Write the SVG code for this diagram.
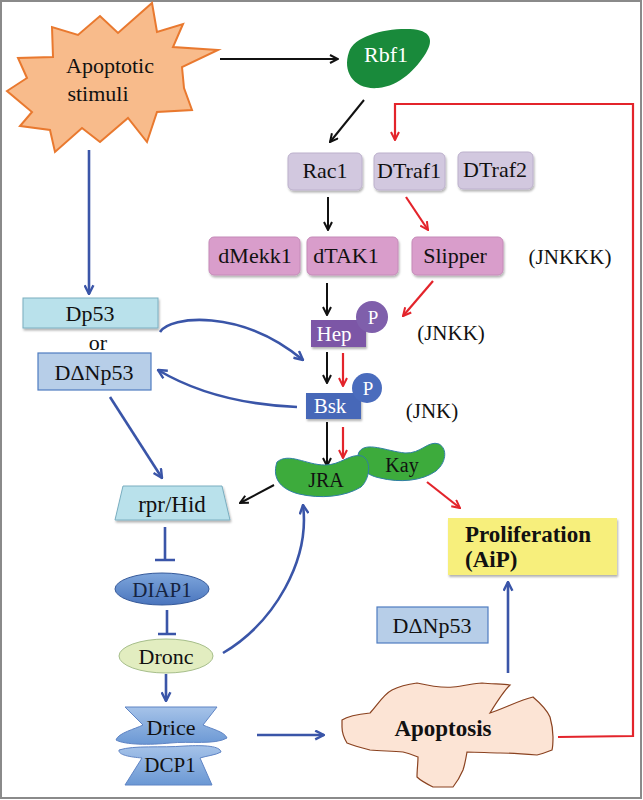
<svg xmlns="http://www.w3.org/2000/svg" width="643" height="800" viewBox="0 0 643 800">
<defs>
<style>
text{font-family:"Liberation Serif","DejaVu Serif",serif;font-size:22px;fill:#111;text-anchor:middle}
.w{fill:#fff}
.b{font-weight:bold}
.lav{fill:#d2c8df;stroke:#bcb0cc;stroke-width:1}
.pink{fill:#d99dcb;stroke:#c58ab8;stroke-width:1}
.cyan{fill:#b9e1eb;stroke:#7aaec0;stroke-width:1}
.lblue{fill:#b7cee8;stroke:#4f7cc0;stroke-width:1.2}
.blk{stroke:#111;stroke-width:2;fill:none}
.blu{stroke:#3a55a8;stroke-width:2.6;fill:none}
.red{stroke:#e3242b;stroke-width:2.2;fill:none}
</style>
<filter id="sh" x="-20%" y="-20%" width="140%" height="150%"><feDropShadow dx="1" dy="2" stdDeviation="1.3" flood-color="#000" flood-opacity="0.3"/></filter>
<marker id="ak" viewBox="0 0 10 10" refX="9" refY="5" markerWidth="10" markerHeight="10" markerUnits="userSpaceOnUse" orient="auto"><path d="M1,1 L9,5 L1,9" fill="none" stroke="#111" stroke-width="2"/></marker>
<marker id="ab" viewBox="0 0 10 10" refX="9" refY="5" markerWidth="11" markerHeight="11" markerUnits="userSpaceOnUse" orient="auto"><path d="M1,1 L9,5 L1,9" fill="none" stroke="#3a55a8" stroke-width="2.2"/></marker>
<marker id="ar" viewBox="0 0 10 10" refX="9" refY="5" markerWidth="10" markerHeight="10" markerUnits="userSpaceOnUse" orient="auto"><path d="M1,1 L9,5 L1,9" fill="none" stroke="#e3242b" stroke-width="2"/></marker>
<linearGradient id="gdiap" x1="0" y1="0" x2="0" y2="1"><stop offset="0" stop-color="#7ea6dc"/><stop offset="1" stop-color="#4a75bd"/></linearGradient>
<linearGradient id="gdr" x1="0" y1="0" x2="0" y2="1"><stop offset="0" stop-color="#a6c3e9"/><stop offset="1" stop-color="#6b98d4"/></linearGradient>
</defs>
<rect x="1" y="1" width="640" height="797" fill="#fff" stroke="#8a8a8a" stroke-width="2"/>

<g id="connectors">
<path class="blk" d="M220,59 L338,59" marker-end="url(#ak)"/>
<path class="blk" d="M364,100 L330,142" marker-end="url(#ak)"/>
<path class="blk" d="M328,197 L328,230" marker-end="url(#ak)"/>
<path class="blk" d="M327,283 L327,315" marker-end="url(#ak)"/>
<path class="blk" d="M327,352 L327,383" marker-end="url(#ak)"/>
<path class="blk" d="M327,422 L327,466" marker-end="url(#ak)"/>
<path class="blk" d="M274,485 L240,503" marker-end="url(#ak)"/>
<path class="red" d="M558,737 L633,736 L633,104 L395,104 L395,140" marker-end="url(#ar)"/>
<path class="red" d="M406,197 L428,230" marker-end="url(#ar)"/>
<path class="red" d="M433,281 L403,316" marker-end="url(#ar)"/>
<path class="red" d="M343,353 L343,386" marker-end="url(#ar)"/>
<path class="red" d="M343,427 L343,458" marker-end="url(#ar)"/>
<path class="red" d="M427,482 L460,508" marker-end="url(#ar)"/>
<path class="blu" d="M89,150 L89,294" marker-end="url(#ab)"/>
<path class="blu" d="M160,332 C170,316 240,308 303,360" marker-end="url(#ab)"/>
<path class="blu" d="M297,407 C250,405 200,395 158,370" marker-end="url(#ab)"/>
<path class="blu" d="M110,397 L162,478" marker-end="url(#ab)"/>
<path class="blu" d="M223,653 C275,622 310,560 303,505" marker-end="url(#ab)"/>
<path class="blu" d="M166,674 L166,701" marker-end="url(#ab)"/>
<path class="blu" d="M257,735 L324,735" marker-end="url(#ab)"/>
<path class="blu" d="M508,673 L508,582" marker-end="url(#ab)"/>
<path class="blu" d="M165,527 L165,560 M155,560 L175,560"/>
<path class="blu" d="M167,610 L167,634 M158,634 L176,634"/>
</g>

<g id="stimuli">
<polygon points="152,3 157,32 183,24 173,47 218,50 182,67 184,88 192,110 157,112 147,142 128,118 100,142 82,128 55,152 50,130 20,126 32,112 7,91 27,78 18,58 53,57 52,27 78,35 100,16 118,33" fill="#f8bb8b" stroke="#e9792f" stroke-width="2" stroke-linejoin="miter"/>
<text x="110" y="73">Apoptotic</text>
<text x="98" y="101">stimuli</text>
</g>

<g id="rbf1">
<path d="M349,52 C354,36 385,28 410,29 C431,30 434,40 426,53 C416,69 400,86 378,88 C354,90 342,72 349,52 Z" fill="#198a3b"/>
<text class="w" x="386" y="62">Rbf1</text>
</g>

<g id="rac1"><rect class="lav" x="288" y="153" width="74" height="37" rx="5" filter="url(#sh)"/><text x="325" y="178">Rac1</text></g>
<g id="dtraf1"><rect class="lav" x="374" y="153" width="71" height="37" rx="5" filter="url(#sh)"/><text x="409" y="178">DTraf1</text></g>
<g id="dtraf2"><rect class="lav" x="458" y="152" width="75" height="37" rx="5" filter="url(#sh)"/><text x="495" y="177">DTraf2</text></g>

<g id="dmekk1"><rect class="pink" x="209" y="237" width="91" height="38" rx="5" filter="url(#sh)"/><text x="255" y="263">dMekk1</text></g>
<g id="dtak1"><rect class="pink" x="307" y="237" width="91" height="38" rx="5" filter="url(#sh)"/><text x="346" y="263">dTAK1</text></g>
<g id="slipper"><rect class="pink" x="412" y="237" width="91" height="38" rx="5" filter="url(#sh)"/><text x="455" y="263">Slipper</text></g>
<g id="jnkkk"><text x="570" y="264" style="font-size:21px">(JNKKK)</text></g>

<g id="hep">
<rect x="311" y="320" width="55" height="27" fill="#7b57a6" filter="url(#sh)"/>
<circle cx="372" cy="317" r="16" fill="#7f5fab"/>
<text class="w" x="334" y="341" style="font-size:21px">Hep</text>
<text class="w" x="373" y="324" style="font-size:19px">P</text>
</g>
<g id="jnkk"><text x="451" y="340" style="font-size:21px">(JNKK)</text></g>

<g id="bsk">
<rect x="306" y="393" width="55" height="26" fill="#4668b8" filter="url(#sh)"/>
<circle cx="367" cy="388" r="15" fill="#4a6cbd"/>
<text class="w" x="330" y="413" style="font-size:21px">Bsk</text>
<text class="w" x="368" y="395" style="font-size:19px">P</text>
</g>
<g id="jnk"><text x="432" y="418" style="font-size:21px">(JNK)</text></g>

<g id="kay">
<path d="M359,452 C366,441 386,451 405,453 C421,454 428,440 439,444 C448,449 446,463 436,471 C422,481 400,483 380,478 C364,475 354,463 359,452 Z" fill="#3dab3c" stroke="#2f7fa3" stroke-width="1"/>
<text x="402" y="472" style="font-size:20px">Kay</text>
</g>
<g id="jra">
<path d="M277,462 C289,452 306,465 325,465 C341,465 350,453 362,456 C372,460 370,479 361,487 C345,497 320,499 299,494 C283,490 271,480 277,462 Z" fill="#3dab3c" stroke="#2f7fa3" stroke-width="1"/>
<text x="326" y="487" style="font-size:20px">JRA</text>
</g>

<g id="proliferation">
<rect x="448" y="518" width="169" height="57" fill="#f7ef7c" filter="url(#sh)"/>
<text class="b" x="465" y="542" style="text-anchor:start;font-size:23px">Proliferation</text>
<text class="b" x="465" y="567" style="text-anchor:start;font-size:23px">(AiP)</text>
</g>

<g id="dnp53-right"><rect class="lblue" x="377" y="607" width="111" height="36"/><text x="432" y="633">DΔNp53</text></g>

<g id="apoptosis">
<path d="M342,720 C348,716 360,714 370,713 C378,704 384,694 392,690 C400,686 410,684 417,683 C430,686 442,688 453,687 C465,686 474,683 482,683 C492,684 502,684 510,685 C505,690 498,700 490,713 C505,708 520,700 533,697 C540,703 547,710 550,717 C552,724 553,731 553,737 C553,742 553,746 552,750 C547,752 542,754 537,755 C525,754 512,753 500,753 C490,753 478,752 467,752 C466,758 465,764 463,770 C460,777 457,782 453,787 C446,787 440,787 433,787 C427,784 421,781 417,777 C417,770 418,763 418,757 C413,755 408,753 403,752 C392,751 381,751 370,750 C362,748 354,746 347,743 C344,738 342,732 342,727 Z" fill="#fce4d5" stroke="#8a4220" stroke-width="1.2"/>
<text class="b" x="443" y="736" style="font-size:23px">Apoptosis</text>
</g>

<g id="dp53"><rect class="cyan" x="23" y="298" width="135" height="30" filter="url(#sh)"/><text x="90" y="321">Dp53</text></g>
<g id="or"><text x="98" y="350">or</text></g>
<g id="dnp53-left"><rect class="lblue" x="38" y="353" width="113" height="37"/><text x="94" y="380">DΔNp53</text></g>

<g id="rprhid"><polygon class="cyan" points="123,486 222,486 230,520 115,520" filter="url(#sh)"/><text x="172" y="512" style="font-size:23px">rpr/Hid</text></g>

<g id="diap1"><ellipse cx="162" cy="589" rx="47" ry="16" fill="url(#gdiap)" stroke="#35599a" stroke-width="1"/><text x="162" y="597" style="font-size:21px;fill:#15233f">DIAP1</text></g>

<g id="dronc"><ellipse cx="166" cy="656" rx="47" ry="17" fill="#e2edc0" stroke="#a6be8a" stroke-width="1"/><text x="166" y="664">Dronc</text></g>

<g id="drice">
<path d="M125,707 L217,707 L203,725 C212,729 225,732 227,738 C215,745 190,741 170,743 C150,745 125,745 116,740 C118,733 135,729 143,725 Z" fill="url(#gdr)" stroke="#5f84c4" stroke-width="1"/>
<text x="171" y="735">Drice</text>
</g>
<g id="dcp1">
<path d="M119,750 C135,745 160,748 185,746 C205,745 220,746 221,752 C216,755 206,756 200,758 L212,785 L125,785 L142,758 C130,757 118,755 119,750 Z" fill="url(#gdr)" stroke="#5f84c4" stroke-width="1"/>
<text x="170" y="772" style="font-size:21px">DCP1</text>
</g>
</svg>
